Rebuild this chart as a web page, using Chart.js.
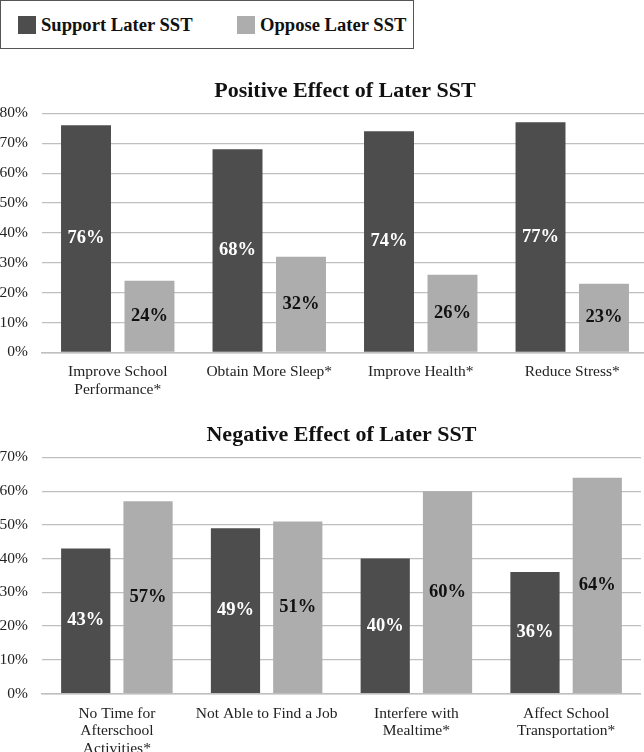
<!DOCTYPE html>
<html><head><meta charset="utf-8">
<script src="https://cdn.jsdelivr.net/npm/chart.js@4"></script>
<style>
html,body{margin:0;padding:0;background:#fff;width:644px;height:752px;overflow:hidden;font-family:"Liberation Serif","Times New Roman",serif;}
#legend{position:absolute;left:0;top:0;width:414px;height:49px;border:1px solid #555;box-sizing:border-box;}
.li{position:absolute;top:13px;font-weight:bold;font-size:18.6px;color:#111;line-height:22px;}
.sw{display:inline-block;width:18px;height:18px;vertical-align:-3px;margin-right:5px;}
#c1w{position:absolute;left:0;top:62px;width:648px;height:340px;}
#c2w{position:absolute;left:0;top:404px;width:641px;height:357px;}
</style></head><body>
<div id="legend">
 <div class="li" style="left:17px"><span class="sw" style="background:#4d4d4d"></span>Support Later SST</div>
 <div class="li" style="left:236px"><span class="sw" style="background:#adadad"></span>Oppose Later SST</div>
</div>
<div id="c1w"><canvas id="c1"></canvas></div>
<div id="c2w"><canvas id="c2"></canvas></div>
<script>
const seriesNames = ["Support Later SST", "Oppose Later SST"];
const posTitle = "Positive Effect of Later SST";
const posCategories = [["Improve School","Performance*"], "Obtain More Sleep*", "Improve Health*", "Reduce Stress*"];
const posSupport = [76, 68, 74, 77];
const posOppose = [24, 32, 26, 23];
const negTitle = "Negative Effect of Later SST";
const negCategories = [["No Time for","Afterschool","Activities*"], "Not Able to Find a Job", ["Interfere with","Mealtime*"], ["Affect School","Transportation*"]];
const negSupport = [43, 49, 40, 36];
const negOppose = [57, 51, 60, 64];

const FONT = "'Liberation Serif','Times New Roman',serif";
const colors = ["#4d4d4d", "#adadad"];
const labelColors = ["#ffffff", "#111111"];

const valueLabels = {
  id: 'valueLabels',
  afterDatasetsDraw(chart) {
    const ctx = chart.ctx;
    ctx.save();
    ctx.font = "bold 18.5px " + FONT;
    ctx.textAlign = 'center';
    ctx.textBaseline = 'middle';
    chart.data.datasets.forEach((ds, di) => {
      const meta = chart.getDatasetMeta(di);
      meta.data.forEach((el, i) => {
        ctx.fillStyle = labelColors[di];
        ctx.fillText(ds.data[i] + '%', el.x, (el.y + el.base) / 2);
      });
    });
    ctx.restore();
  }
};

function makeChart(id, title, cats, a, b, maxV, pad, catPct, barPct) {
  return new Chart(document.getElementById(id), {
    type: 'bar',
    data: {
      labels: cats,
      datasets: [
        {label: seriesNames[0], data: a, backgroundColor: colors[0]},
        {label: seriesNames[1], data: b, backgroundColor: colors[1]}
      ]
    },
    options: {
      responsive: true, maintainAspectRatio: false, animation: false,
      layout: {padding: pad},
      datasets: {bar: {categoryPercentage: catPct, barPercentage: barPct}},
      plugins: {
        legend: {display: false},
        tooltip: {enabled: false},
        title: {display: true, fullSize: false, text: title, color: '#111', font: {family: FONT, size: 22, weight: 'bold'}, padding: {top: 0, bottom: 9}}
      },
      scales: {
        x: {
          grid: {display: false},
          border: {display: true, color: '#bfbfbf', width: 1.5},
          ticks: {color: '#222', font: {family: FONT, size: 15.5, lineHeight: 1.15}, maxRotation: 0, autoSkip: false, padding: 3}
        },
        y: {
          min: 0, max: maxV,
          afterFit: s => { s.width = 42; },
          grid: {color: '#bfbfbf', lineWidth: 1.2, drawTicks: false},
          border: {display: false},
          ticks: {stepSize: 10, color: '#222', font: {family: FONT, size: 15.5}, padding: 14, callback: v => v + '%'}
        }
      }
    },
    plugins: [valueLabels]
  });
}
makeChart('c1', posTitle, posCategories, posSupport, posOppose, 80, {left: 0, right: 0, top: 16, bottom: 0}, 0.838, 0.787);
makeChart('c2', negTitle, negCategories, negSupport, negOppose, 70, {left: 0, right: 0, top: 18, bottom: 0}, 0.832, 0.79);
</script>
</body></html>
